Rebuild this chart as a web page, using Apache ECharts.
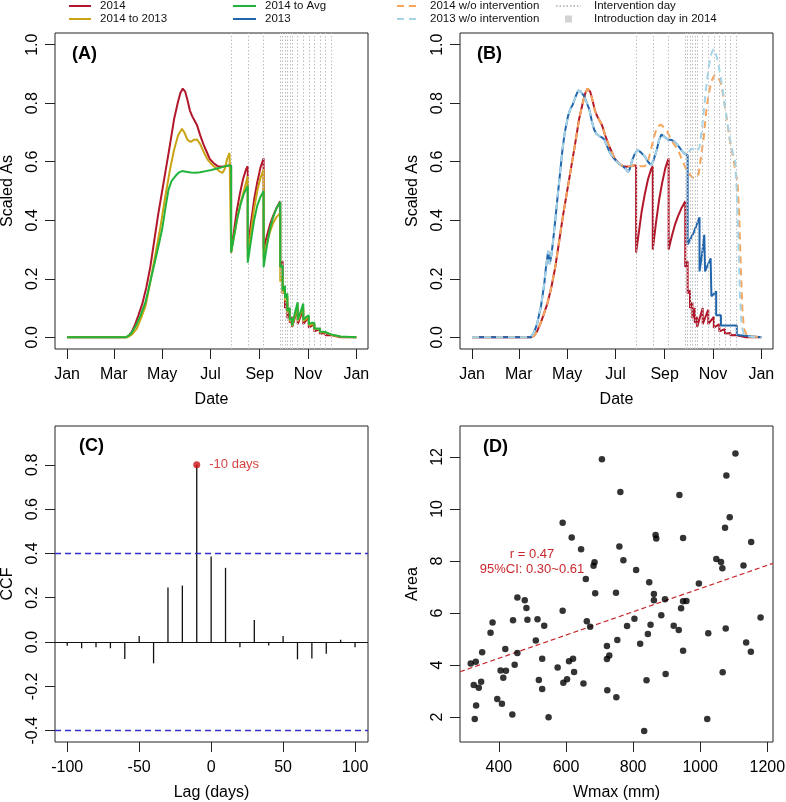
<!DOCTYPE html>
<html><head><meta charset="utf-8">
<script src="https://cdn.jsdelivr.net/npm/echarts@6/dist/echarts.min.js"></script>
<style>html,body{margin:0;padding:0;background:#fff}#c{width:786px;height:802px}</style>
</head><body><div id="c"></div>
<script>
// ---------- axis ticks ----------
const monthTicks = [0, 59, 120, 181, 243, 304, 365];
const monthLabels = ['Jan', 'Mar', 'May', 'Jul', 'Sep', 'Nov', 'Jan'];
const asTicks = [0, 0.2, 0.4, 0.6, 0.8, 1.0];
const lagTicks = [-100, -50, 0, 50, 100];
const ccfTicks = [-0.4, -0.2, 0, 0.2, 0.4, 0.6, 0.8];
const wmaxTicks = [400, 600, 800, 1000, 1200];
const areaTicks = [2, 4, 6, 8, 10, 12];

// ---------- intervention days (day of year) ----------
const interventionDays = [207, 228, 248, 269, 272, 275, 278, 281, 284, 291, 298, 305, 312, 319, 326, 333];

// ---------- 2014 ----------
const day2014 = [0, 74, 78, 82, 86, 90, 95, 100, 105, 110, 115, 120, 125, 130, 135, 140, 143, 146, 149, 152, 155, 158, 161, 164, 168, 172, 176, 180, 185, 190, 195, 200, 204, 207,
  207, 210, 214, 218, 222, 226, 228,
  228, 232, 236, 240, 244, 248,
  248, 252, 256, 260, 264, 269,
  269, 272, 272, 275, 275, 278, 278, 281, 281, 284, 284, 291, 291, 298, 298, 305, 305, 312, 312, 319, 319, 326, 326, 333, 333, 345, 365];
const as2014 = [0, 0, 0.005, 0.02, 0.045, 0.075, 0.115, 0.17, 0.24, 0.33, 0.42, 0.50, 0.58, 0.66, 0.745, 0.805, 0.835, 0.85, 0.84, 0.81, 0.775, 0.755, 0.74, 0.725, 0.69, 0.66, 0.635, 0.61, 0.595, 0.585, 0.583, 0.585, 0.587, 0.587,
  0.29, 0.35, 0.43, 0.49, 0.54, 0.575, 0.585,
  0.30, 0.39, 0.47, 0.53, 0.58, 0.612,
  0.30, 0.345, 0.385, 0.415, 0.44, 0.465,
  0.24, 0.26, 0.15, 0.16, 0.10, 0.12, 0.065, 0.10, 0.05, 0.07, 0.035, 0.10, 0.045, 0.095, 0.045, 0.07, 0.033, 0.045, 0.02, 0.028, 0.012, 0.015, 0.007, 0.008, 0.003, 0, 0];

// ---------- 2014 to 2013 ----------
const dayTo2013 = [0, 76, 82, 88, 94, 99, 105, 111, 118, 124, 130, 135, 140, 145, 148, 152, 156, 160, 164, 168, 173, 178, 183, 188, 193, 196, 199, 202, 205, 207,
  207, 211, 215, 219, 223, 228,
  228, 232, 236, 240, 244, 248,
  248, 252, 256, 260, 264, 269,
  269, 272, 272, 275, 275, 278, 278, 281, 281, 284, 284, 291, 291, 298, 298, 305, 305, 312, 312, 319, 319, 326, 326, 333, 333, 345, 365];
const asTo2013 = [0, 0, 0.01, 0.03, 0.07, 0.107, 0.19, 0.277, 0.38, 0.482, 0.575, 0.64, 0.69, 0.713, 0.70, 0.675, 0.668, 0.675, 0.676, 0.66, 0.63, 0.605, 0.59, 0.578, 0.566, 0.562, 0.575, 0.61, 0.63, 0.625,
  0.29, 0.35, 0.41, 0.46, 0.50, 0.55,
  0.27, 0.36, 0.44, 0.50, 0.545, 0.573,
  0.27, 0.32, 0.36, 0.39, 0.41, 0.425,
  0.19, 0.21, 0.15, 0.165, 0.125, 0.14, 0.085, 0.095, 0.055, 0.06, 0.038, 0.11, 0.055, 0.105, 0.055, 0.07, 0.042, 0.046, 0.028, 0.028, 0.018, 0.016, 0.011, 0.009, 0.005, 0.002, 0];

// ---------- 2014 to Avg ----------
const dayToAvg = [0, 74, 80, 86, 92, 99, 105, 111, 116, 120, 124, 128, 132, 137, 141, 145, 150, 156, 162, 168, 175, 182, 188, 194, 200, 204, 207,
  207, 211, 215, 219, 223, 228,
  228, 232, 236, 240, 244, 248,
  248, 252, 256, 260, 264, 269,
  269, 272, 272, 275, 275, 278, 278, 281, 281, 284, 284, 288, 291, 291, 295, 298, 298, 302, 305, 305, 309, 312, 312, 319, 319, 326, 326, 333, 333, 345, 365];
const asToAvg = [0, 0, 0.01, 0.035, 0.07, 0.12, 0.19, 0.26, 0.32, 0.37, 0.44, 0.505, 0.535, 0.552, 0.563, 0.568, 0.566, 0.563, 0.562, 0.564, 0.568, 0.572, 0.576, 0.58, 0.585, 0.587, 0.587,
  0.29, 0.35, 0.41, 0.455, 0.49, 0.517,
  0.255, 0.33, 0.40, 0.45, 0.48, 0.50,
  0.24, 0.31, 0.37, 0.41, 0.44, 0.462,
  0.24, 0.245, 0.16, 0.175, 0.135, 0.15, 0.09, 0.10, 0.06, 0.065, 0.04, 0.09, 0.12, 0.06, 0.09, 0.115, 0.06, 0.07, 0.075, 0.045, 0.05, 0.05, 0.03, 0.03, 0.02, 0.018, 0.012, 0.01, 0.006, 0.003, 0];

// ---------- 2013 ----------
const day2013 = [0, 74, 78, 82, 87, 91, 93, 96, 98, 100, 102, 105, 108, 111, 114, 117, 121, 124, 127, 131, 134, 137, 141, 145, 148, 151, 154, 157, 161, 164, 167, 170, 174, 178, 182, 186, 190, 194, 197, 199, 202, 205, 209, 213, 218, 222, 226, 229, 233, 236, 239, 243, 247, 252, 256, 260, 264, 268, 272,
  272, 280, 287, 287, 290, 293, 294, 297, 301, 302, 305, 308, 308, 314, 314, 334, 334, 365];
const as2013 = [0, 0, 0.015, 0.045, 0.107, 0.18, 0.232, 0.295, 0.25, 0.28, 0.323, 0.40, 0.482, 0.56, 0.64, 0.70, 0.755, 0.78, 0.795, 0.825, 0.844, 0.84, 0.826, 0.80, 0.778, 0.74, 0.71, 0.695, 0.687, 0.683, 0.676, 0.655, 0.63, 0.615, 0.602, 0.592, 0.585, 0.575, 0.565, 0.575, 0.605, 0.625, 0.64, 0.632, 0.618, 0.60, 0.588, 0.605, 0.64, 0.675, 0.693, 0.685, 0.676, 0.674, 0.668, 0.655, 0.64, 0.628, 0.622,
  0.317, 0.36, 0.41, 0.225, 0.28, 0.35, 0.225, 0.245, 0.27, 0.14, 0.148, 0.157, 0.075, 0.075, 0.04, 0.04, 0.008, 0];

// ---------- without intervention (continuation after the first intervention) ----------
const woDays2014 = [212, 218, 222, 226, 230, 234, 238, 241, 245, 251, 256, 260, 266, 270, 275, 279, 283, 286, 288, 292, 295, 298, 302, 306, 310, 313, 316, 319, 322, 325, 329, 332, 335, 337, 339, 341, 343, 347, 365];
const woAs2014 = [0.585, 0.585, 0.6, 0.645, 0.69, 0.72, 0.727, 0.72, 0.71, 0.676, 0.655, 0.64, 0.60, 0.575, 0.555, 0.545, 0.545, 0.56, 0.60, 0.676, 0.76, 0.824, 0.875, 0.897, 0.89, 0.875, 0.84, 0.79, 0.735, 0.676, 0.62, 0.573, 0.53, 0.42, 0.25, 0.10, 0.03, 0.005, 0];
const woDays2013 = [275, 278, 281, 284, 287, 290, 293, 296, 299, 302, 304.5, 307, 310, 313, 316, 319, 322, 325.5, 329, 332, 334, 336, 338, 340, 343, 348, 365];
const woAs2013 = [0.64, 0.645, 0.64, 0.635, 0.65, 0.71, 0.79, 0.87, 0.93, 0.97, 0.985, 0.975, 0.945, 0.90, 0.85, 0.79, 0.735, 0.676, 0.63, 0.60, 0.50, 0.33, 0.14, 0.04, 0.01, 0.003, 0];

// ---------- (C) cross-correlation ----------
const lags = [-100, -90, -80, -70, -60, -50, -40, -30, -20, -10, 0, 10, 20, 30, 40, 50, 60, 70, 80, 90, 100];
const ccf = [-0.017, -0.028, -0.023, -0.028, -0.077, 0.027, -0.096, 0.246, 0.255, 0.80, 0.386, 0.335, -0.023, 0.10, -0.015, 0.027, -0.078, -0.074, -0.053, 0.01, -0.023];
const ciBound = 0.4;

// ---------- (D) scatter ----------
const wmax = [316, 331, 325, 340, 347, 332, 328, 350, 375, 381, 395, 405, 413, 421, 409, 419, 447, 442, 440, 455, 455, 477, 482, 485, 510, 515, 519, 529, 529, 535, 548, 575, 590, 590, 592, 603, 609, 621, 624, 617, 645, 652, 659, 662, 672, 682, 685, 687, 707, 722, 722, 729, 723, 749, 750, 753, 759, 762, 771, 782, 804, 809, 821, 840, 844, 848, 852, 862, 862, 867, 869, 884, 895, 897, 921, 936, 938, 943, 949, 949, 949, 959, 996, 1024, 1021, 1048, 1062, 1066, 1067, 1074, 1076, 1078, 1088, 1105, 1129, 1137, 1152, 1151, 1180, 833];
const area = [4.06, 4.13, 3.23, 3.13, 3.36, 2.44, 1.92, 4.49, 5.24, 5.63, 2.69, 3.79, 3.51, 3.78, 2.51, 4.62, 4.01, 5.72, 2.10, 4.46, 6.6, 6.49, 6.19, 5.74, 4.94, 5.76, 3.42, 4.24, 3.08, 5.51, 1.99, 3.9, 9.47, 6.09, 3.32, 3.45, 4.14, 4.24, 3.73, 8.9, 8.45, 3.29, 7.31, 5.68, 5.47, 7.82, 7.95, 6.76, 11.91, 4.73, 4.23, 4.37, 3.03, 6.78, 2.76, 4.96, 8.56, 10.65, 8.03, 5.5, 5.78, 7.65, 4.82, 3.41, 5.19, 7.18, 5.55, 6.73, 6.49, 9.0, 8.86, 5.91, 6.53, 3.65, 5.51, 5.35, 10.54, 6.18, 6.45, 4.55, 8.88, 6.46, 7.13, 5.22, 1.92, 8.08, 7.96, 7.72, 3.72, 9.28, 5.4, 11.29, 9.68, 12.13, 7.83, 4.87, 8.73, 4.51, 5.83, 1.46];
const fitW = [284, 1217];
const fitA = [3.74, 7.91];

// ---------- build ----------
const FONT = '"Liberation Sans", Arial, Helvetica, sans-serif';
const zip = (xs, ys) => xs.map((x, i) => [x, ys[i]]);
const cut2014 = day2014.indexOf(207) + 1;
const cut2013 = day2013.indexOf(272) + 1;
const wo2014 = zip(day2014.slice(0, cut2014), as2014.slice(0, cut2014)).concat(zip(woDays2014, woAs2014));
const wo2013 = zip(day2013.slice(0, cut2013), as2013.slice(0, cut2013)).concat(zip(woDays2013, woAs2013));

const C = {
  r2014: '#B2182B', to2013: '#C9A414', toAvg: '#22B33C', b2013: '#2166AC',
  wo2014: '#F6A65C', wo2013: '#A6D4E6', interv: '#BDBDBD', intro: '#D3D3D3', red: '#C8282D'
};

const boxes = [
  { left: 55, top: 33, width: 313, height: 316 },
  { left: 460, top: 33, width: 313, height: 316 },
  { left: 55, top: 426, width: 313, height: 316 },
  { left: 460, top: 426, width: 313, height: 316 }
];
const grid = boxes.map(b => Object.assign({ show: true, borderColor: '#222', borderWidth: 1, backgroundColor: 'transparent', outerBoundsMode: 'none', containLabel: false }, b));

const txt = { fontFamily: FONT, fontSize: 16, color: '#000' };
function xAx(i, min, max, ticks, fmt, name) {
  return {
    type: 'value', gridIndex: i, min, max, name, nameLocation: 'middle', nameGap: 43, position: 'bottom',
    nameTextStyle: txt, axisLine: { show: false, onZero: false }, splitLine: { show: false },
    axisTick: { show: true, length: 10, customValues: ticks, lineStyle: { color: '#222', width: 1 } },
    axisLabel: Object.assign({ customValues: ticks, formatter: fmt, margin: 18, hideOverlap: false }, txt)
  };
}
function yAx(i, min, max, ticks, fmt, name) {
  return {
    type: 'value', gridIndex: i, min, max, name, nameLocation: 'middle', nameGap: 39, position: 'left',
    nameTextStyle: txt, axisLine: { show: false, onZero: false }, splitLine: { show: false },
    axisTick: { show: true, length: 10, customValues: ticks, lineStyle: { color: '#222', width: 1 } },
    axisLabel: Object.assign({ customValues: ticks, formatter: fmt, margin: 14, rotate: 90, hideOverlap: false }, txt)
  };
}
const monthFmt = v => monthLabels[monthTicks.indexOf(v)];
const oneDec = v => (Math.abs(v) < 1e-9 ? 0 : v).toFixed(1);

function curve(name, data, color, gi, dash, z) {
  return {
    type: 'line', name, data, xAxisIndex: gi, yAxisIndex: gi, showSymbol: false, symbol: 'none',
    lineStyle: { color, width: 2, type: dash || 'solid', cap: 'butt' }, itemStyle: { color },
    z: z || 3, silent: true, animation: false, emphasis: { disabled: true }
  };
}
function intervention(gi) {
  return {
    type: 'line', name: 'Intervention day', data: [], xAxisIndex: gi, yAxisIndex: gi,
    showSymbol: false, symbol: 'none', silent: true, z: 1,
    lineStyle: { color: C.interv, width: 1, type: [1.5, 2] }, itemStyle: { color: C.interv },
    markLine: {
      silent: true, symbol: ['none', 'none'], label: { show: false }, animation: false,
      lineStyle: { color: C.interv, width: 1, type: [1.5, 2] },
      data: interventionDays.map(d => ({ xAxis: d }))
    }
  };
}

const peakIdx = ccf.indexOf(Math.max(...ccf));

const series = [
  intervention(0),
  { type: 'scatter', name: 'Introduction day in 2014', data: [], xAxisIndex: 0, yAxisIndex: 0, symbol: 'rect', itemStyle: { color: C.intro } },
  curve('2014', zip(day2014, as2014), C.r2014, 0, null, 3),
  curve('2014 to 2013', zip(dayTo2013, asTo2013), C.to2013, 0, null, 4),
  curve('2014 to Avg', zip(dayToAvg, asToAvg), C.toAvg, 0, null, 5),

  intervention(1),
  curve('2014', zip(day2014, as2014), C.r2014, 1, null, 3),
  curve('2013', zip(day2013, as2013), C.b2013, 1, null, 3),
  curve('2014 w/o intervention', wo2014, C.wo2014, 1, [7, 5], 4),
  curve('2013 w/o intervention', wo2013, C.wo2013, 1, [7, 5], 5),

  {
    type: 'bar', name: 'CCF', data: zip(lags, ccf), xAxisIndex: 2, yAxisIndex: 2, barWidth: 1.3,
    itemStyle: { color: '#111' }, silent: true, animation: false,
    markLine: {
      silent: true, symbol: ['none', 'none'], label: { show: false }, animation: false,
      data: [
        { yAxis: 0, lineStyle: { color: '#111', type: 'solid', width: 1 } },
        { yAxis: ciBound, lineStyle: { color: '#3333CC', type: [6, 4], width: 1.3 } },
        { yAxis: -ciBound, lineStyle: { color: '#3333CC', type: [6, 4], width: 1.3 } }
      ]
    }
  },
  {
    type: 'scatter', name: 'peak', data: [[lags[peakIdx], ccf[peakIdx]]], xAxisIndex: 2, yAxisIndex: 2,
    symbolSize: 7, itemStyle: { color: '#CC1111' }, silent: true, z: 5,
    label: { show: true, position: 'right', distance: 9, formatter: lags[peakIdx] + ' days', color: '#CC1111', fontFamily: FONT, fontSize: 13 }
  },

  {
    type: 'scatter', name: 'Area', data: zip(wmax, area), xAxisIndex: 3, yAxisIndex: 3,
    symbolSize: 6.5, itemStyle: { color: '#000' }, silent: true, z: 4
  },
  {
    type: 'line', name: 'fit', data: zip(fitW, fitA), xAxisIndex: 3, yAxisIndex: 3, showSymbol: false, symbol: 'none',
    lineStyle: { color: C.red, width: 1.2, type: [5, 3] }, silent: true, z: 3
  }
];

const legendBase = {
  orient: 'vertical', top: 0, itemHeight: 8, itemGap: 1, selectedMode: false, padding: 0,
  itemStyle: { opacity: 0 }
};
const legTxt = pad => ({ fontFamily: FONT, fontSize: 11.5, color: '#111', padding: [0, 0, 0, pad] });
const legend = [
  Object.assign({}, legendBase, { left: 68, itemWidth: 22, textStyle: legTxt(4), data: ['2014', '2014 to 2013'] }),
  Object.assign({}, legendBase, { left: 232, itemWidth: 23, textStyle: legTxt(4), data: ['2014 to Avg', '2013'] }),
  Object.assign({}, legendBase, { left: 396, itemWidth: 22, textStyle: legTxt(6), data: ['2014 w/o intervention', '2013 w/o intervention'] }),
  Object.assign({}, legendBase, {
    left: 555, itemWidth: 25, itemHeight: 7, textStyle: legTxt(8),
    data: ['Intervention day', { name: 'Introduction day in 2014', icon: 'path://M0,0h1v1h-1z', itemStyle: { opacity: 1, color: C.intro } }]
  })
];

const panelLabel = (t, x, y) => ({ type: 'text', x, y, silent: true, style: { text: t, font: 'bold 18px ' + FONT, fill: '#000', verticalAlign: 'middle', align: 'left' } });
const graphic = [
  panelLabel('(A)', 72, 54), panelLabel('(B)', 477, 54), panelLabel('(C)', 79, 446), panelLabel('(D)', 483, 447),
  { type: 'text', x: 532, y: 554, silent: true, style: { text: 'r = 0.47', font: '13px ' + FONT, fill: C.red, align: 'center', verticalAlign: 'middle' } },
  { type: 'text', x: 532, y: 569, silent: true, style: { text: '95%CI: 0.30~0.61', font: '13px ' + FONT, fill: C.red, align: 'center', verticalAlign: 'middle' } }
];

const chart = echarts.init(document.getElementById('c'), null, { renderer: 'canvas' });
chart.setOption({
  animation: false,
  backgroundColor: '#fff',
  legend, grid, graphic,
  xAxis: [
    xAx(0, -15.2, 379.7, monthTicks, monthFmt, 'Date'),
    xAx(1, -15.2, 379.7, monthTicks, monthFmt, 'Date'),
    xAx(2, -108.5, 109, lagTicks, v => String(v), 'Lag (days)'),
    xAx(3, 284, 1217, wmaxTicks, v => String(v), 'Wmax (mm)')
  ],
  yAxis: [
    yAx(0, -0.04, 1.04, asTicks, oneDec, 'Scaled As'),
    yAx(1, -0.04, 1.04, asTicks, oneDec, 'Scaled As'),
    yAx(2, -0.451, 0.975, ccfTicks, oneDec, 'CCF'),
    yAx(3, 1.04, 13.19, areaTicks, v => String(v), 'Area')
  ],
  series
});
</script></body></html>
